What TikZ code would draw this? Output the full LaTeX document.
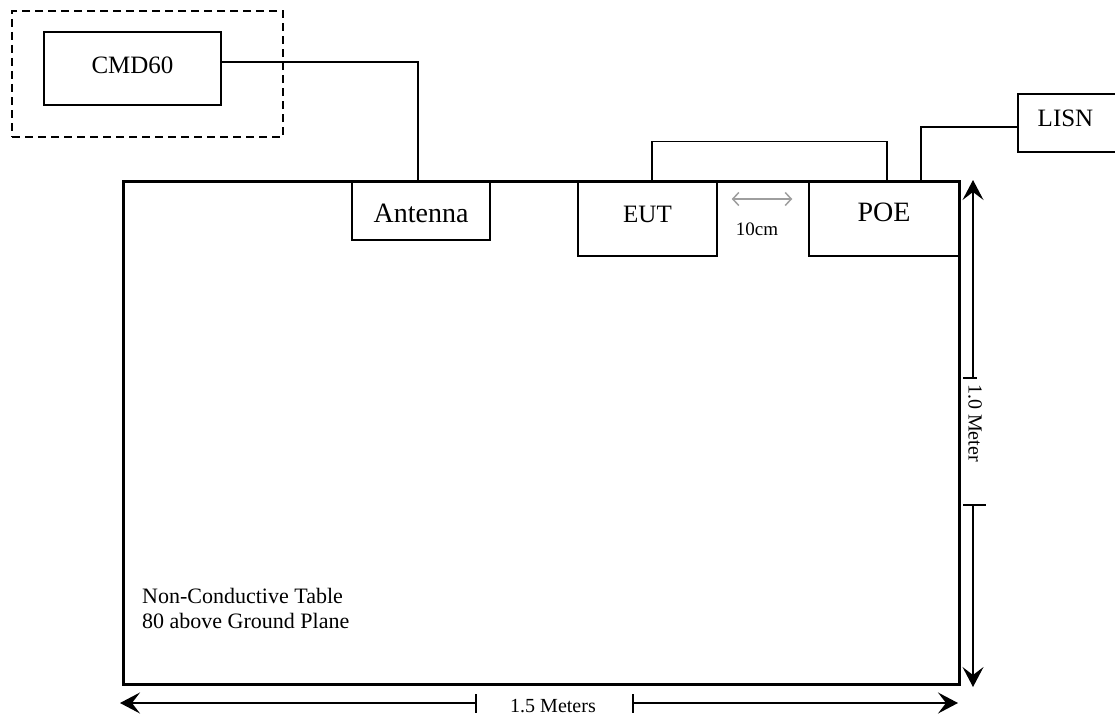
\documentclass[tikz,border=0pt]{standalone}
\usepackage{fontspec}
\setmainfont{Liberation Serif}
\usetikzlibrary{arrows.meta}
\definecolor{gapgray}{gray}{0.62}
\begin{document}
\begin{tikzpicture}[x=1pt,y=-1pt,
  box/.style={draw, line width=1.5pt, inner sep=0pt},
  wire/.style={line width=1.5pt},
  dimhead/.style={-{Stealth[length=20pt,width=21pt,inset=8pt]}},
  dimline/.style={line width=1.8pt},
  vdimline/.style={line width=1.2pt},
  fA/.style={font=\fontsize{25}{30}\selectfont},
  fB/.style={font=\fontsize{28}{33}\selectfont},
  gapbar/.style={draw=gapgray, line width=1.5pt, {Straight Barb[length=6pt,width=13pt]}-{Straight Barb[length=6pt,width=13pt]}}
]
\useasboundingbox (0,0) rectangle (1115,717);
\clip (0,0) rectangle (1115,717);

% outer dashed frame and CMD60
\node[box, dash pattern=on 8pt off 5pt, minimum width=271pt, minimum height=126pt] (frame) at (147.5,74) {};
\node[box, fA, minimum width=177pt, minimum height=73pt, text height=16.5pt, text depth=7pt] (cmd) at (132.5,68.5) {CMD60};

% table
\node[draw, line width=3pt, inner sep=0pt, minimum width=836pt, minimum height=503pt] (table) at (541,432.5) {};

% boxes on the table
\node[box, fB, minimum width=138pt, minimum height=59pt, text height=23.5pt, text depth=0pt] (ant) at (421,210.5) {Antenna};
\node[box, fA, minimum width=139pt, minimum height=75pt, text height=16.5pt, text depth=8pt] (eut) at (647.5,218.5) {EUT};
\node[box, fB, minimum width=150pt, minimum height=75pt, text height=18.5pt, text depth=12pt] (poe) at (884,218.5) {POE};
\node[box, fA, minimum width=107pt, minimum height=58pt, text height=16.5pt, text depth=10pt] (lisn) at (1071.5,123) {\hspace*{-12pt}LISN};

% cables
\draw[wire] ([yshift=6.5pt]cmd.east) -| ([xshift=-3pt]ant.north);
\draw[wire] ([xshift=4.5pt]eut.north) -- ++(0,-39) -| ([xshift=3pt]poe.north);
\draw[wire] ([yshift=-4pt]lisn.west) -| ([xshift=37pt]poe.north);

% 10cm spacing
\draw[gapbar] ([shift={(14pt,19.5pt)}]eut.east) -- ([shift={(-16pt,19.5pt)}]poe.west);
\node[font=\fontsize{19}{22}\selectfont, inner sep=0pt] (ten) at (757,229) {10cm};

% table text
\node[font=\fontsize{22}{25}\selectfont, align=left, anchor=north west, inner sep=0pt] (tabletext) at (142,588.5) {Non-Conductive Table\\80 above Ground Plane};

% horizontal dimension
\coordinate (hL) at (120,703);
\coordinate (hT1) at (476,703);
\coordinate (hT2) at (633,703);
\coordinate (hR) at (958,703);
\draw[dimline, dimhead] (hT1) -- (hL);
\draw[dimline, dimhead] (hT2) -- (hR);
\draw[line width=1.5pt] ([yshift=9pt]hT1) -- ([yshift=-10pt]hT1);
\draw[line width=1.5pt] ([yshift=9pt]hT2) -- ([yshift=-10pt]hT2);
\node[font=\fontsize{20}{24}\selectfont, inner sep=0pt] (m15) at (553,706) {1.5 Meters};

% vertical dimension
\coordinate (vT) at (973,180);
\coordinate (vK1) at (973,378);
\coordinate (vK2) at (973,505);
\coordinate (vB) at (973,687);
\draw[vdimline, dimhead] (vK1) -- (vT);
\draw[vdimline, dimhead] (vK2) -- (vB);
\draw[line width=1.5pt] ([xshift=-10pt]vK1) -- ([xshift=4pt]vK1);
\draw[line width=1.5pt] ([xshift=-10pt]vK2) -- ([xshift=13pt]vK2);
\node[rotate=-90, font=\fontsize{20}{24}\selectfont, inner sep=0pt] (m10) at (975,423) {1.0 Meter};
\end{tikzpicture}
\end{document}
